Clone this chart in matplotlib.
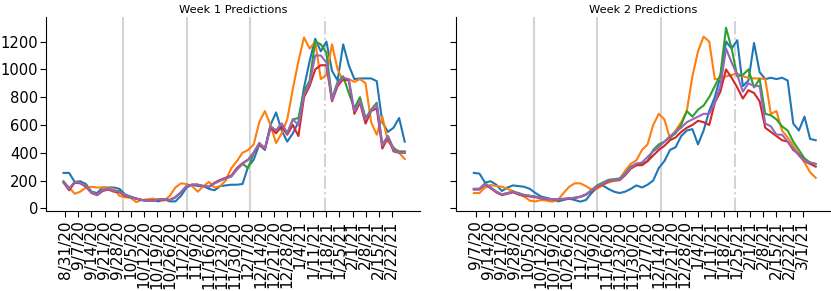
import matplotlib
matplotlib.use("Agg")
import matplotlib.pyplot as plt
import numpy as np

# Sample index (every 3 days from the first day of each panel)
n_points = 62
sample_step_days = 3

# ---- Week 1 panel (starts 8/30/20) ----
blue_w1 = [255,255,190,195,175,120,110,150,150,150,
           140,100,85,70,60,55,60,50,65,50,
           50,90,150,170,160,160,140,130,160,165,
           170,170,175,300,350,460,420,600,690,560,
           480,540,620,870,1060,1220,1130,1200,990,920,
           1180,1030,930,935,935,935,915,620,550,580,
           650,480]
orange_w1 = [190,150,105,120,150,155,150,150,145,140,
             90,80,75,45,60,65,70,60,55,90,
             150,180,175,160,120,160,190,150,160,200,
             290,340,400,420,460,620,700,600,470,540,
             640,860,1060,1230,1150,1200,930,960,1180,1000,
             920,930,910,930,900,620,530,660,480,440,
             400,355]
green_w1 = [195,140,190,185,165,115,100,130,140,125,
            125,95,80,70,60,55,55,65,65,60,
            80,115,160,170,170,160,155,180,200,215,
            230,280,320,290,400,470,430,590,560,610,
            540,640,650,840,920,1200,1180,1120,790,910,
            950,830,720,800,650,710,760,460,520,430,
            410,410]
red_w1 = [185,130,185,180,155,110,95,125,135,120,
          115,90,80,70,60,55,55,60,65,60,
          80,115,160,170,170,160,155,185,205,220,
          235,290,325,350,400,460,425,580,540,590,
          530,600,520,800,880,1000,1030,1030,770,880,
          930,920,680,760,610,700,720,430,510,410,
          400,400]
purple_w1 = [190,140,190,185,160,115,100,130,140,125,
             120,95,80,70,60,55,55,65,65,60,
             80,115,160,170,170,160,155,180,200,215,
             230,280,320,350,400,470,430,590,560,610,
             540,640,600,820,900,1100,1100,1050,780,900,
             940,930,700,770,640,700,750,450,520,420,
             400,400]

# ---- Week 2 panel (starts 9/6/20) ----
blue_w2 = [255,250,185,195,170,125,150,165,160,155,
           140,110,85,75,65,50,60,70,60,48,
           60,110,150,165,140,120,110,120,140,165,
           150,170,200,290,340,420,440,520,560,570,
           460,560,700,800,950,1200,1150,1210,880,920,
           1190,980,930,940,930,940,920,610,560,660,
           500,490]
orange_w2 = [110,110,150,168,160,156,140,125,100,84,
             55,50,60,55,48,60,110,155,180,180,
             160,135,140,170,185,200,210,270,320,345,
             420,460,600,680,640,500,560,620,700,950,
             1130,1236,1200,930,930,950,960,970,950,940,
             935,935,930,680,700,560,510,450,390,330,
             260,220]
green_w2 = [140,140,180,150,120,100,110,120,110,96,
            90,84,75,68,66,66,68,72,76,84,
            100,132,165,185,205,210,215,250,300,320,
            320,340,420,460,480,510,540,600,700,660,
            710,740,800,880,960,1300,1150,950,960,1000,
            870,930,680,670,640,590,560,480,420,360,
            330,320]
red_w2 = [135,135,170,145,115,95,105,115,100,92,
          85,80,72,66,64,63,66,70,74,82,
          98,125,155,172,195,200,202,238,285,310,
          310,340,380,420,450,490,510,550,580,600,
          630,620,600,760,840,1000,940,870,790,850,
          830,770,580,550,520,490,480,420,390,340,
          320,300]
purple_w2 = [140,140,175,150,120,100,110,120,105,96,
             90,84,75,68,66,65,68,72,76,84,
             100,128,160,178,200,205,208,245,292,322,
             330,370,410,440,480,520,550,580,620,640,
             660,680,680,760,880,1150,1050,960,840,900,
             880,880,610,590,530,530,480,430,380,340,
             330,320]

labels_w1 = ['8/31/20','9/7/20','9/14/20','9/21/20','9/28/20','10/5/20','10/12/20',
             '10/19/20','10/26/20','11/2/20','11/9/20','11/16/20','11/23/20','11/30/20',
             '12/7/20','12/14/20','12/21/20','12/28/20','1/4/21','1/11/21','1/18/21',
             '1/25/21','2/1/21','2/8/21','2/15/21','2/22/21']
labels_w2 = ['9/7/20','9/14/20','9/21/20','9/28/20','10/5/20','10/12/20','10/19/20',
             '10/26/20','11/2/20','11/9/20','11/16/20','11/23/20','11/30/20','12/7/20',
             '12/14/20','12/21/20','12/28/20','1/4/21','1/11/21','1/18/21','1/25/21',
             '2/1/21','2/8/21','2/15/21','2/22/21','3/1/21']
yticks = [0, 200, 400, 600, 800, 1000, 1200]
titles = ['Week 1 Predictions', 'Week 2 Predictions']
phase_days = [32, 66, 100]     # grey separators (days from panel start)
forecast_day = 140             # dash-dot marker (days from panel start)
first_tick_day = 1

colors = ['#1f77b4', '#ff7f0e', '#2ca02c', '#d62728', '#9467bd']

W, H = 831, 291
fig = plt.figure(figsize=(W/100, H/100), dpi=100)
bottom = 1 - 210.7/H
height = (210.7 - 17)/H
ax1 = fig.add_axes([46.0/W, bottom, (420 - 46.0)/W, height])
ax2 = fig.add_axes([456.3/W, bottom, (831 - 456.3)/W, height], sharey=ax1)

days = np.arange(n_points) * sample_step_days
panels = [
    (ax1, [blue_w1, orange_w1, green_w1, red_w1, purple_w1], labels_w1),
    (ax2, [blue_w2, orange_w2, green_w2, red_w2, purple_w2], labels_w2),
]

for i, (ax, series, labels) in enumerate(panels):
    for d in phase_days:
        ax.axvline(d, color='#d4d4d4', lw=1.5, zorder=1)
    ax.axvline(forecast_day, color='#d4d4d4', lw=1.5, ls='-.', zorder=1)
    for s, c in zip(series, colors):
        ax.plot(days, s, color=c, lw=1.5, zorder=2)
    ticks = first_tick_day + 7*np.arange(len(labels))
    ax.set_xticks(ticks)
    ax.set_xticklabels(labels, rotation=90, fontsize=11)
    ax.set_xlim(-9.4, 191.2)
    ax.set_title(titles[i], fontsize=8.2, pad=3)
    ax.spines['top'].set_visible(False)
    ax.spines['right'].set_visible(False)
    ax.tick_params(axis='y', labelsize=10.6, length=4, pad=1.5)
    ax.tick_params(axis='x', length=4, pad=3)

ax1.set_ylim(-17, 1377)
ax1.set_yticks(yticks)
ax2.tick_params(axis='y', labelleft=False)

fig.savefig('out.png', dpi=100)
